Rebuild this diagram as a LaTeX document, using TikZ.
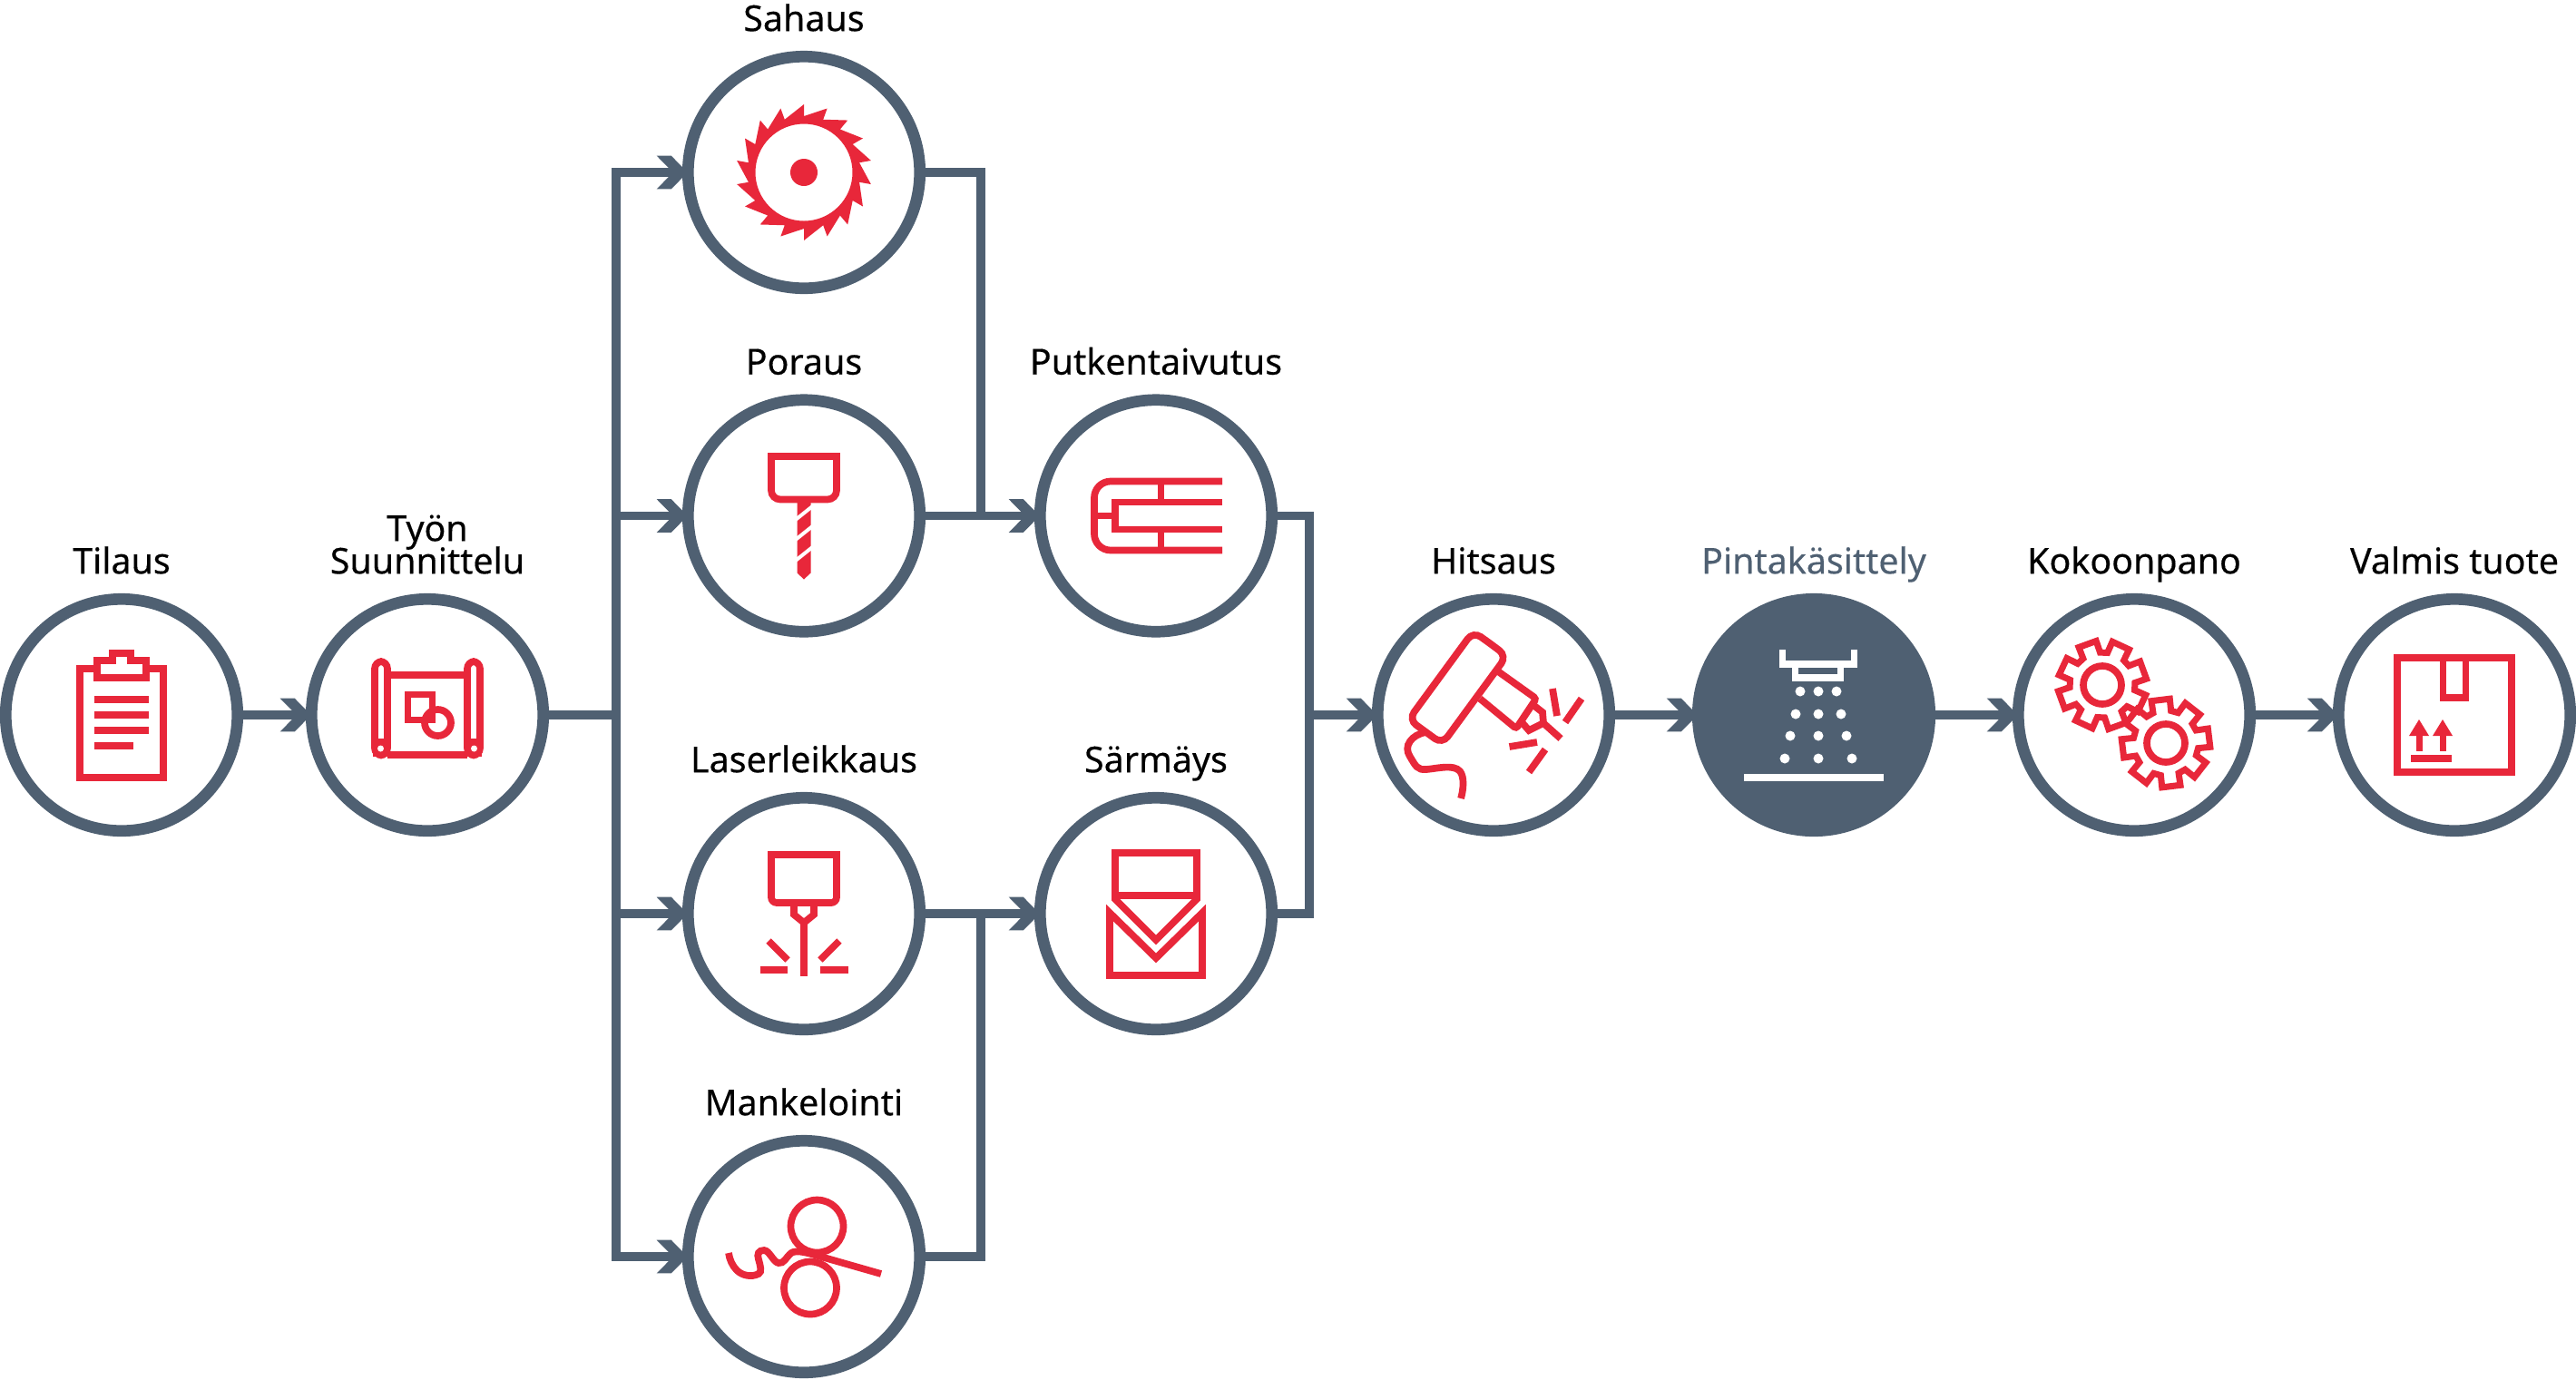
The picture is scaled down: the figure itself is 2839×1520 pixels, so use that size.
\documentclass[tikz,border=0pt]{standalone}
\usepackage{fontspec}
\setmainfont{Noto Sans}[FakeBold=0.35]
\usetikzlibrary{positioning,arrows.meta}

\definecolor{flowslate}{HTML}{4F6072}
\definecolor{iconred}{HTML}{E8273A}

% chevron tip with flat cut barbs
\pgfdeclarearrow{
  name=FlowBarb,
  setup code={
    \pgfarrowssettipend{0pt}
    \pgfarrowssetlineend{-0.09cm}
    \pgfarrowssetvisualbackend{-0.09cm}
    \pgfarrowssetbackend{-0.283cm}
  },
  drawing code={
    \pgfpathmoveto{\pgfpoint{0.06cm}{0pt}}
    \pgfpathlineto{\pgfpoint{-0.123cm}{0.184cm}}
    \pgfpathlineto{\pgfpoint{-0.283cm}{0.184cm}}
    \pgfpathlineto{\pgfpoint{-0.10cm}{0pt}}
    \pgfpathlineto{\pgfpoint{-0.283cm}{-0.184cm}}
    \pgfpathlineto{\pgfpoint{-0.123cm}{-0.184cm}}
    \pgfpathclose
    \pgfusepathqfill
  }
}

\tikzset{
  stepcircle/.style={circle, draw=flowslate, fill=white, line width=0.127cm, minimum size=2.553cm, inner sep=0pt},
  steplabel/.style={anchor=south, inner sep=0pt, text depth=0pt, align=center, font=\fontsize{11.2pt}{10.8pt}\selectfont},
  flow/.style={draw=flowslate, line width=0.095cm, line join=miter},
  flowarrow/.style={flow, -{FlowBarb}},
  icon/.style={draw=iconred, line width=0.077cm, line join=miter},
  iconfill/.style={fill=iconred},
  iconwhite/.style={draw=white, line width=0.078cm}
}

\newcommand{\gearoutline}[1]{
  ({#1-29}:36) \foreach \toothangle in {0,45,...,315} {
    -- ({\toothangle+#1-16}:36) -- ({\toothangle+#1-12}:49) -- ({\toothangle+#1+12}:49) -- ({\toothangle+#1+16}:36) -- ({\toothangle+#1+29}:36)
  } -- cycle
}

\begin{document}
\begin{tikzpicture}[x=0.01cm, y=-0.01cm]
\useasboundingbox (0,0) rectangle (2839,1520);

% steps
\node[stepcircle] (tilaus) at (134,788) {};
\node[stepcircle] (tyon) at (471,788) {};
\node[stepcircle] (sahaus) at (886,190) {};
\node[stepcircle] (poraus) at (886,568.5) {};
\node[stepcircle] (laser) at (886,1007) {};
\node[stepcircle] (mankeli) at (886,1385) {};
\node[stepcircle] (putki) at (1274,568.5) {};
\node[stepcircle] (sarmays) at (1274,1007) {};
\node[stepcircle] (hitsaus) at (1646,788) {};
\node[stepcircle, fill=flowslate] (pinta) at (1999,788) {};
\node[stepcircle] (kokoon) at (2352,788) {};
\node[stepcircle] (valmis) at (2705,788) {};

% labels
\node[steplabel, above=0.21cm of tilaus] (tilauslabel) {Tilaus};
\node[steplabel, above=0.21cm of tyon] (tyonlabel) {Työn\\[-2pt]Suunnittelu};
\node[steplabel, above=0.21cm of sahaus] (sahauslabel) {Sahaus};
\node[steplabel, above=0.21cm of poraus] (porauslabel) {Poraus};
\node[steplabel, above=0.21cm of laser] (laserlabel) {Laserleikkaus};
\node[steplabel, above=0.21cm of mankeli] (mankelilabel) {Mankelointi};
\node[steplabel, above=0.21cm of putki] (putkilabel) {Putkentaivutus};
\node[steplabel, above=0.21cm of sarmays] (sarmayslabel) {Särmäys};
\node[steplabel, above=0.21cm of hitsaus] (hitsauslabel) {Hitsaus};
\node[steplabel, above=0.21cm of pinta, text=flowslate] (pintalabel) {Pintakäsittely};
\node[steplabel, above=0.21cm of kokoon] (kokoonlabel) {Kokoonpano};
\node[steplabel, above=0.21cm of valmis] (valmislabel) {Valmis tuote};

% junctions
\coordinate (branch) at (679,788);
\coordinate (joinup) at (1081,568.5);
\coordinate (joindown) at (1081,1007);
\coordinate (collect) at (1443,788);

% connectors
\draw[flowarrow] (tilaus) -- (tyon);
\draw[flow] (tyon) -- (branch);
\draw[flowarrow] (branch) |- (sahaus);
\draw[flowarrow] (branch) |- (poraus);
\draw[flowarrow] (branch) |- (laser);
\draw[flowarrow] (branch) |- (mankeli);
\draw[flow] (sahaus) -| (joinup);
\draw[flow] (mankeli) -| (joindown);
\draw[flowarrow] (poraus) -- (putki);
\draw[flowarrow] (laser) -- (sarmays);
\draw[flow] (putki) -| (collect);
\draw[flow] (sarmays) -| (collect);
\draw[flowarrow] (collect) -- (hitsaus);
\draw[flowarrow] (hitsaus) -- (pinta);
\draw[flowarrow] (pinta) -- (kokoon);
\draw[flowarrow] (kokoon) -- (valmis);

% clipboard
\begin{scope}[shift={(tilaus)}]
\draw[icon] (-46,-51) rectangle (46,69);
\draw[icon, fill=white] (-27,-41) -- (27,-41) -- (27,-60) -- (10,-60) -- (10,-68) -- (-10,-68) -- (-10,-60) -- (-27,-60) -- cycle;
\foreach \rowy/\rowend in {-17/30, 0/30, 17/30, 34/13}
  \fill[iconfill] (-30,\rowy-4) rectangle (\rowend,\rowy+4);
\end{scope}

% blueprint
\begin{scope}[shift={(tyon)}]
\draw[icon] (-44,-44) -- (44,-44);
\draw[icon] (-44,44) -- (44,44);
\draw[icon, rounded corners=0.08cm] (-58,-5) -- (-58,-59) -- (-44,-59) -- (-44,44.5) -- (-58,44.5) -- cycle;
\draw[icon, rounded corners=0.08cm] (58,-5) -- (58,-59) -- (44,-59) -- (44,44.5) -- (58,44.5) -- cycle;
\fill[iconfill] (-60,26) rectangle (-42,46);
\fill[iconfill] (60,26) rectangle (42,46);
\fill[white] (-51.5,37) circle [radius=3.5];
\fill[white] (51.5,37) circle [radius=3.5];
\draw[icon] (-21.5,-22.5) rectangle (5.5,5.5);
\draw[icon] (11.5,8.5) circle [radius=14.5];
\end{scope}

% saw blade
\begin{scope}[shift={(sahaus)}]
\fill[iconfill, even odd rule] (-90:75) \foreach \toothangle in {-90,-70,...,250} { -- (\toothangle:62) -- (\toothangle+20:75) } -- cycle
  (0,0) circle [radius=53.5] (0,0) circle [radius=15];
\end{scope}

% drill
\begin{scope}[shift={(poraus)}]
\draw[icon] (0,-65.5) -- (36,-65.5) [rounded corners=0.1cm] -- (36,-18) -- (-36,-18) [sharp corners] -- (-36,-65.5) -- cycle;
\fill[iconfill] (-7.5,-18) -- (7.5,-18) -- (7.5,63) -- (0,70) -- (-7.5,63) -- cycle;
\foreach \cuty in {-3,19,42}
  \draw[draw=white, line width=0.04cm] (-10,\cuty+8) -- (10,\cuty-8);
\end{scope}

% bent tube
\begin{scope}[shift={(putki)}]
\draw[icon, rounded corners=0.18cm] (73,-38) -- (-68,-38) -- (-68,38) -- (73,38);
\draw[icon] (73,-15) -- (-45,-15) -- (-45,15) -- (73,15);
\draw[icon] (5.5,-38) -- (5.5,-15);
\draw[icon] (5.5,38) -- (5.5,15);
\draw[icon] (-68,0) -- (-45,0);
\end{scope}

% laser head
\begin{scope}[shift={(laser)}]
\draw[icon] (0,-65) -- (36,-65) [rounded corners=0.06cm] -- (36,-12) -- (-36,-12) [sharp corners] -- (-36,-65) -- cycle;
\draw[icon] (-11,-12) -- (-11,1) -- (0,10) -- (11,1) -- (11,-12);
\draw[icon] (0,9) -- (0,69);
\draw[icon] (-39,30) -- (-18,51);
\draw[icon] (39,30) -- (18,51);
\draw[icon] (-48.5,62) -- (-18,62);
\draw[icon] (48.5,62) -- (18,62);
\end{scope}

% press brake
\begin{scope}[shift={(sarmays)}]
\draw[icon] (-45,-67) -- (45,-67) -- (45,-16) -- (0,29) -- (-45,-16) -- cycle;
\draw[icon] (-45,-20) -- (45,-20);
\draw[icon] (-51,-1) -- (0,49) -- (51,-1) -- (51,68) -- (-51,68) -- cycle;
\end{scope}

% rollers
\begin{scope}[shift={(mankeli)}]
\draw[icon] (14.5,-33.5) circle [radius=29];
\draw[icon] (7,34.5) circle [radius=29];
\draw[icon] (85,19) -- (22,1) .. controls (5,-4) and (-8,-8) .. (-14,-4) .. controls (-20,1) and (-22,8) .. (-28,7) .. controls (-34,6) and (-38,-7) .. (-44,-7) .. controls (-50,-7) and (-52,-3) .. (-50,3) .. controls (-48,10) and (-46,17) .. (-50,19) .. controls (-58,23) and (-68,21) .. (-74,15) .. controls (-79,10) and (-82,3) .. (-83,-4);
\end{scope}

% welding gun
\begin{scope}[shift={(hitsaus)}]
\draw[icon, rounded corners=0.1cm] (-4,-79) -- (14.5,-65) -- (-56.5,32) -- (-93.5,5) -- (-22.5,-92) -- cycle;
\draw[icon, rounded corners=0.03cm] (5,-48) -- (47,-18) -- (25,15) -- (-15,-18);
\draw[icon] (45,-10) -- (54,-3) -- (55,9) -- (39,17) -- (32,9);
\draw[icon] (55,9) -- (74,26);
\draw[icon] (65,-29) -- (70,1);
\draw[icon] (97,-18) -- (79,8);
\draw[icon] (17.5,35) -- (48,30);
\draw[icon] (57,38) -- (39,63);
\draw[icon] (-75,19) .. controls (-90,22) and (-100,34) .. (-92,46) .. controls (-86,56) and (-84,61) .. (-74,60) .. controls (-62,59) and (-44,54) .. (-37,62) .. controls (-32,68) and (-33,82) .. (-36,92);
\end{scope}

% spray booth
\begin{scope}[shift={(pinta)}]
\draw[iconwhite] (-34.5,-72) -- (-34.5,-56) -- (44.5,-56) -- (44.5,-72);
\draw[iconwhite] (-20.5,-52) -- (-20.5,-41) -- (29.5,-41) -- (29.5,-52);
\foreach \dropx/\dropy in {-15/-26, 5/-26, 25/-26, -20/-1, 5/-1, 30/-1, -26/23, 5/23, 36/23, -32/48, 5/48, 42/48}
  \fill[white] (\dropx,\dropy) circle [radius=5.5];
\fill[white] (-77,65) rectangle (77,73);
\end{scope}

% gears
\begin{scope}[shift={(kokoon)}]
\draw[icon, line width=0.07cm] [shift={(-35,-33)}] \gearoutline{-110};
\draw[icon] (-35,-33) circle [radius=21];
\draw[icon, line width=0.07cm] [shift={(35,31)}] \gearoutline{-97};
\draw[icon] (35,31) circle [radius=21];
\end{scope}

% box
\begin{scope}[shift={(valmis)}]
\draw[icon] (-63,-63) rectangle (63,63);
\draw[icon] (-12.5,-63) -- (-12.5,-19) -- (12.5,-19) -- (12.5,-63);
\foreach \arrowx in {-39,-13} {
  \fill[iconfill] (\arrowx,5) -- (\arrowx+11,23) -- (\arrowx-11,23) -- cycle;
  \fill[iconfill] (\arrowx-3.5,23) rectangle (\arrowx+3.5,40);
}
\fill[iconfill] (-48.5,44) rectangle (-3.5,51.5);
\end{scope}

\end{tikzpicture}
\end{document}
